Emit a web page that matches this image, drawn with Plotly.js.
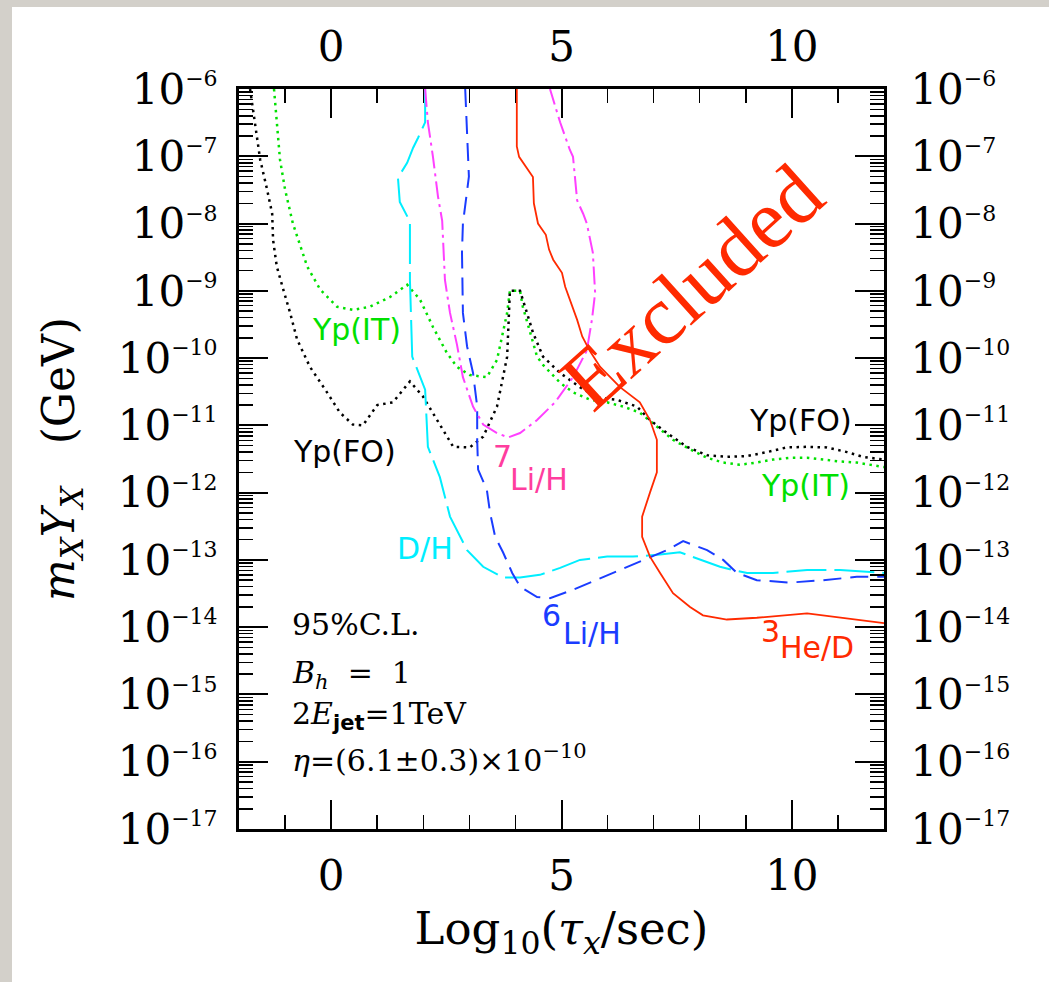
<!DOCTYPE html>
<html><head><meta charset="utf-8">
<script src="https://cdn.plot.ly/plotly-3.0.1.min.js"></script>
<style>
html,body{margin:0;padding:0;background:#d3d0ca;width:1049px;height:982px;overflow:hidden;}
#chart{position:absolute;left:12px;top:7px;width:1037px;height:975px;background:#fff;}
</style></head><body><div id="chart"></div>
<script>
// Yp (IT) constraint
const ypIT_x = [-1.24,-1.11,-1.00,-0.83,-0.52,-0.24,0.13,0.47,0.84,1.28,1.65,1.93,2.21,2.51,2.73,3.01,3.38,3.60,3.82,3.88,4.10,4.16,4.32,4.47,4.60,4.97,5.25,5.62,5.99,6.34,6.70,7.07,7.42,7.79,8.16,8.51,8.87,9.24,9.59,9.96,10.33,10.68,11.05,11.41,12.0];
const ypIT_y = [1.0e-6,8.9e-8,3.2e-8,1.0e-8,2.3e-9,1.05e-9,5.8e-10,5.2e-10,5.8e-10,8.1e-10,1.23e-9,7.4e-10,2.9e-10,1.2e-10,7.4e-11,5.6e-11,5.2e-11,9.4e-11,4.7e-10,1.0e-9,1.0e-9,5.8e-10,2.4e-10,1.05e-10,7.9e-11,4.3e-11,3.1e-11,2.4e-11,2.2e-11,1.9e-11,1.55e-11,9.5e-12,6.1e-12,4.4e-12,3.3e-12,2.8e-12,2.6e-12,2.8e-12,3.1e-12,3.3e-12,3.3e-12,3.1e-12,2.9e-12,2.8e-12,2.4e-12];
// Yp (FO) constraint
const ypFO_x = [-1.76,-1.61,-1.54,-1.39,-1.28,-1.26,-1.18,-1.04,-0.89,-0.74,-0.46,-0.09,0.19,0.47,0.69,1.00,1.34,1.71,1.99,2.30,2.65,3.01,3.30,3.60,3.82,3.88,4.10,4.25,4.38,4.60,4.97,5.40,5.77,6.20,6.64,6.92,7.29,7.72,8.16,8.59,9.03,9.46,9.89,10.33,10.76,11.20,11.54,12.0];
const ypFO_y = [1.0e-6,1.9e-7,8.9e-8,3.2e-8,1.4e-8,5.7e-9,2.3e-9,1.05e-9,4.7e-10,1.9e-10,7.4e-11,3.1e-11,1.55e-11,1.03e-11,1.0e-11,2.0e-11,2.2e-11,4.5e-11,2.7e-11,1.2e-11,4.8e-12,4.7e-12,6.8e-12,1.9e-11,1.05e-10,1.0e-9,1.0e-9,4.7e-10,2.4e-10,1.05e-10,6.0e-11,3.7e-11,2.6e-11,2.4e-11,1.9e-11,1.2e-11,7.7e-12,4.8e-12,3.6e-12,3.4e-12,3.5e-12,4.0e-12,4.7e-12,4.8e-12,4.7e-12,4.0e-12,3.4e-12,3.1e-12];
// D/H
const dh_x = [2.04,2.04,1.89,1.78,1.65,1.45,1.49,1.71,1.71,1.76,2.04,2.08,2.10,2.36,2.58,2.95,3.30,3.73,4.10,4.53,4.97,5.40,5.99,6.55,7.14,7.57,8.01,8.44,8.72,9.03,9.59,10.33,11.05,12.0];
const dh_y = [1e-6,3.2e-7,1.9e-7,1.34e-7,8.0e-8,4.8e-8,2.1e-8,1.07e-8,1.45e-9,1.05e-10,3.4e-11,1.1e-11,4.8e-12,1.7e-12,4.4e-13,1.4e-13,7.9e-14,5.5e-14,5.5e-14,6.0e-14,7.6e-14,1.0e-13,1.12e-13,1.12e-13,1.2e-13,1.3e-13,1.0e-13,7.9e-14,7.1e-14,6.4e-14,6.4e-14,7.1e-14,7.1e-14,6.4e-14];
// 6Li/H
const li6_x = [2.91,2.99,2.86,2.84,2.86,2.95,3.08,3.17,3.17,3.19,3.38,3.45,3.56,3.73,3.93,4.10,4.47,4.75,5.25,5.62,6.12,6.70,7.29,7.64,8.16,8.51,8.81,9.24,9.96,10.68,11.41,12.0];
const li6_y = [1e-6,5.0e-8,1.0e-8,3.7e-9,4.7e-10,1.5e-10,6.0e-11,1.9e-11,6.1e-12,2.2e-12,1.1e-12,5.0e-13,2.2e-13,1.3e-13,6.4e-14,4.0e-14,2.8e-14,2.7e-14,3.6e-14,4.6e-14,6.4e-14,9.3e-14,1.4e-13,1.9e-13,1.4e-13,1.0e-13,6.4e-14,5.0e-14,4.6e-14,5.0e-14,5.6e-14,5.6e-14];
// 7Li/H
const li7_x = [2.04,2.10,2.21,2.32,2.41,2.47,2.58,2.73,2.86,3.08,3.30,3.60,3.84,4.10,4.47,4.86,5.25,5.55,5.66,5.73,5.68,5.55,5.47,5.34,5.25,5.18,4.97,4.75];
const li7_y = [1e-6,3.2e-7,9.8e-8,2.5e-8,1.1e-8,1.45e-9,4.7e-10,1.6e-10,5.2e-11,1.9e-11,1.03e-11,7.7e-12,6.6e-12,7.7e-12,1.2e-11,2.2e-11,5.2e-11,1.3e-10,3.7e-10,9.3e-10,3.7e-9,1.0e-8,1.4e-8,2.2e-8,9.8e-8,1.25e-7,3.2e-7,1e-6];
// 3He/D
const he3_x = [4.03,4.03,4.08,4.38,4.40,4.49,4.66,4.73,4.82,5.01,5.08,5.18,5.34,5.45,5.62,5.84,6.27,6.70,6.92,7.07,7.07,6.92,6.75,6.75,6.92,7.14,7.42,7.79,8.07,8.59,9.24,10.33,11.05,12.0];
const he3_y = [1e-6,1.4e-7,9.8e-8,4.9e-8,2.0e-8,1.0e-8,6.8e-9,4.1e-9,2.9e-9,1.85e-9,1.15e-9,7.4e-10,3.7e-10,2.1e-10,1.26e-10,7.4e-11,3.7e-11,2.2e-11,1.2e-11,6.1e-12,2.0e-12,1.0e-12,4.4e-13,2.2e-13,1.12e-13,6.4e-14,3.2e-14,2.0e-14,1.5e-14,1.3e-14,1.38e-14,1.6e-14,1.4e-14,1.15e-14];

// axis ticks
const xTickVals = [0, 5, 10];
const xTickText = ['0', '5', '10'];
const yExponents = [-6,-7,-8,-9,-10,-11,-12,-13,-14,-15,-16,-17];
const yTickVals = yExponents.map(e => Math.pow(10, e));
const yTickText = yExponents.map(e => '10<sup><span style="font-size:22px">\u2212' + Math.abs(e) + '</span></sup>');

const SERIF = 'DejaVu Serif';
const GOTH = 'DejaVu Sans';
const LBL = 30;

function line(x, y, color, dash, width) {
  return {x, y, type:'scatter', mode:'lines', line:{color, dash, width}, hoverinfo:'skip', showlegend:false, cliponaxis:true};
}
const traces = [
  line(ypIT_x, ypIT_y, '#00e000', '2.5px,4.5px', 2.5),
  line(ypFO_x, ypFO_y, '#000000', '2.5px,4.5px', 2.5),
  line(dh_x, dh_y, '#00eeff', '40px,8px', 2),
  line(li6_x, li6_y, '#1a3cff', '18px,9px', 2),
  line(li7_x, li7_y, '#ff40ff', '18px,5px,3px,5px', 2),
  line(he3_x, he3_y, '#ff2a00', 'solid', 1.8),
  {x:[], y:[], xaxis:'x2', yaxis:'y2', type:'scatter', mode:'lines', showlegend:false, hoverinfo:'skip'}
];

const baseX = {
  range:[-2,12], tickmode:'array', tickvals:xTickVals, ticktext:xTickText,
  ticks:'inside', ticklen:29, tickwidth:2, tickcolor:'#000',
  minor:{ticks:'inside', ticklen:14, tickwidth:1.5, tickcolor:'#000', dtick:1, tick0:0, showgrid:false},
  showline:true, linewidth:3, linecolor:'#000', showgrid:false, zeroline:false,
  tickfont:{family:SERIF, size:42, color:'#000'}, ticklabelstandoff:8, automargin:false
};
const baseY = {
  type:'log', range:[-17,-6], tickmode:'array', tickvals:yTickVals, ticktext:yTickText,
  ticks:'inside', ticklen:29, tickwidth:2, tickcolor:'#000',
  minor:{ticks:'inside', ticklen:14, tickwidth:1.5, tickcolor:'#000', dtick:'D1', showgrid:false},
  showline:true, linewidth:3, linecolor:'#000', showgrid:false, zeroline:false,
  tickfont:{family:SERIF, size:42, color:'#000'}, automargin:false
};

const layout = {
  width:1037, height:975,
  margin:{l:227, r:165, t:82, b:153, pad:0},
  paper_bgcolor:'#ffffff', plot_bgcolor:'#ffffff',
  showlegend:false,
  xaxis: Object.assign({}, baseX, {side:'bottom', anchor:'y',
    title:{text:'Log<sub>10</sub>(<i>\u03c4</i><sub><i>x</i></sub>/sec)', font:{family:SERIF, size:45, color:'#000'}, standoff:14}}),
  xaxis2: Object.assign({}, baseX, {side:'top', overlaying:'x', anchor:'y'}),
  yaxis: Object.assign({}, baseY, {side:'left', anchor:'x', ticklabelstandoff:10,
    title:{text:'\u00a0\u00a0<i>m</i><sub><i>X</i></sub><i>Y</i><sub><i>X</i></sub>\u00a0\u00a0\u00a0(GeV)', font:{family:SERIF, size:44, color:'#000'}, standoff:30}}),
  yaxis2: Object.assign({}, baseY, {side:'right', overlaying:'y', anchor:'x', ticklabelstandoff:15}),
  annotations: [
    {text:'Yp(IT)', x:0.56, y:-9.58, font:{family:GOTH, size:LBL, color:'#00e000'}},
    {text:'Yp(FO)', x:0.30, y:-11.39, font:{family:GOTH, size:LBL, color:'#000000'}},
    {text:'7', x:3.71, y:-11.47, font:{family:GOTH, size:LBL, color:'#ff3d9e'}},
    {text:'Li/H', x:4.51, y:-11.80, font:{family:GOTH, size:LBL, color:'#ff3d9e'}},
    {text:'D/H', x:2.04, y:-12.83, font:{family:GOTH, size:LBL, color:'#00eeff'}},
    {text:'6', x:4.79, y:-13.82, font:{family:GOTH, size:LBL, color:'#1a3cff'}},
    {text:'Li/H', x:5.66, y:-14.10, font:{family:GOTH, size:LBL, color:'#1a3cff'}},
    {text:'3', x:9.53, y:-14.06, font:{family:GOTH, size:LBL, color:'#ff2a00'}},
    {text:'He/D', x:10.55, y:-14.30, font:{family:GOTH, size:LBL, color:'#ff2a00'}},
    {text:'Yp(FO)', x:10.18, y:-10.93, font:{family:GOTH, size:LBL, color:'#000000'}},
    {text:'Yp(IT)', x:10.29, y:-11.90, font:{family:GOTH, size:LBL, color:'#00e000'}},
    {text:'Excluded', x:7.83, y:-8.94, textangle:-42, font:{family:'Liberation Serif', size:84, color:'#ff2a00'}},
    {text:'95%C.L.', x:-0.89, y:-13.96, xanchor:'left', font:{family:SERIF, size:30, color:'#000'}},
    {text:'<i>B</i><sub><i>h</i></sub>\u00a0\u00a0=\u00a0\u00a01', x:-0.89, y:-14.70, xanchor:'left', font:{family:SERIF, size:30, color:'#000'}},
    {text:'2<i>E</i><sub><span style="font-family:DejaVu Sans;font-weight:bold">jet</span></sub>=1TeV', x:-0.89, y:-15.32, xanchor:'left', font:{family:SERIF, size:30, color:'#000'}},
    {text:'<i>\u03b7</i>=(6.1\u00b10.3)\u00d710<sup>\u221210</sup>', x:-0.89, y:-15.95, xanchor:'left', font:{family:SERIF, size:30, color:'#000'}}
  ].map(a => Object.assign({xref:'x', yref:'y', showarrow:false}, a))
};

Plotly.newPlot('chart', traces, layout, {staticPlot:true, displayModeBar:false});
</script></body></html>
